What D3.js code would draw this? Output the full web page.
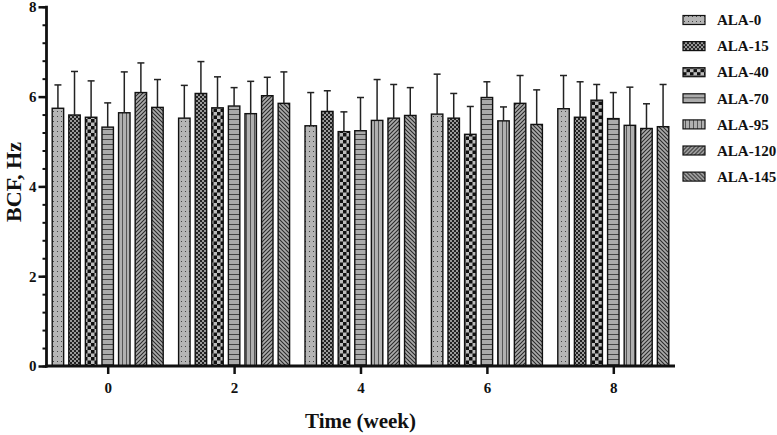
<!DOCTYPE html>
<html><head><meta charset="utf-8">
<script src="https://cdn.jsdelivr.net/npm/d3@7"></script>
<style>body{margin:0;background:#fff}svg{display:block}</style>
</head><body>
<svg id="chart" width="777" height="435"></svg>
<script>
const weeks = [0, 2, 4, 6, 8];
const seriesNames = ["ALA-0", "ALA-15", "ALA-40", "ALA-70", "ALA-95", "ALA-120", "ALA-145"];
const ala0   = [5.74, 5.52, 5.35, 5.61, 5.73];
const ala15  = [5.59, 6.07, 5.67, 5.52, 5.54];
const ala40  = [5.54, 5.75, 5.22, 5.16, 5.92];
const ala70  = [5.32, 5.79, 5.24, 5.98, 5.51];
const ala95  = [5.64, 5.62, 5.47, 5.46, 5.36];
const ala120 = [6.09, 6.02, 5.52, 5.85, 5.29];
const ala145 = [5.76, 5.85, 5.58, 5.38, 5.33];
const sd0   = [0.52, 0.73, 0.74, 0.89, 0.74];
const sd15  = [0.97, 0.71, 0.46, 0.55, 0.79];
const sd40  = [0.81, 0.69, 0.44, 0.62, 0.35];
const sd70  = [0.54, 0.41, 0.74, 0.35, 0.58];
const sd95  = [0.91, 0.72, 0.91, 0.31, 0.85];
const sd120 = [0.66, 0.41, 0.75, 0.62, 0.55];
const sd145 = [0.62, 0.70, 0.62, 0.77, 0.94];
const yTicks = [0, 2, 4, 6, 8];
const yTitle = "BCF, Hz";
const xTitle = "Time (week)";

const means = [ala0, ala15, ala40, ala70, ala95, ala120, ala145];
const sds = [sd0, sd15, sd40, sd70, sd95, sd120, sd145];
const data = [];
seriesNames.forEach((s, si) => weeks.forEach((w, wi) => data.push({series: s, si, week: w, mean: means[si][wi], sd: sds[si][wi]})));

const svg = d3.select("#chart");
const FONT = "'Liberation Serif','Times New Roman',serif";

// patterns
const defs = svg.append("defs");
const base = "#ababab", ink = "#2a2a2a";
function pat(id, w, h, build) {
  const p = defs.append("pattern").attr("id", id).attr("patternUnits", "userSpaceOnUse").attr("width", w).attr("height", h);
  build(p);
}
pat("p0", 4, 5, p => {
  p.append("rect").attr("width", 4).attr("height", 5).attr("fill", "#b5b5b5");
  p.append("rect").attr("x", 1).attr("y", 1).attr("width", 1).attr("height", 1).attr("fill", "#444");
});
pat("p1", 4, 4, p => {
  p.append("rect").attr("width", 4).attr("height", 4).attr("fill", "#9a9a9a");
  p.append("rect").attr("width", 2).attr("height", 2).attr("fill", "#222");
  p.append("rect").attr("x", 2).attr("y", 2).attr("width", 2).attr("height", 2).attr("fill", "#222");
});
pat("p2", 7, 7, p => {
  p.append("rect").attr("width", 7).attr("height", 7).attr("fill", "#bdbdbd");
  p.append("rect").attr("width", 3.5).attr("height", 3.5).attr("fill", "#111");
  p.append("rect").attr("x", 3.5).attr("y", 3.5).attr("width", 3.5).attr("height", 3.5).attr("fill", "#111");
});
pat("p3", 6, 5, p => {
  p.append("rect").attr("width", 6).attr("height", 5).attr("fill", base);
  p.append("rect").attr("y", 4).attr("width", 6).attr("height", 1).attr("fill", "#444");
});
pat("p4", 4, 6, p => {
  p.append("rect").attr("width", 4).attr("height", 6).attr("fill", "#b0b0b0");
  p.append("rect").attr("x", 2).attr("width", 1).attr("height", 6).attr("fill", "#555");
});
pat("p5", 4, 4, p => {
  p.append("rect").attr("width", 4).attr("height", 4).attr("fill", base);
  p.append("path").attr("d", "M-1,5 L5,-1 M-1,1 L1,-1 M3,5 L5,3").attr("stroke", ink).attr("stroke-width", 1.1);
});
pat("p6", 4, 4, p => {
  p.append("rect").attr("width", 4).attr("height", 4).attr("fill", base);
  p.append("path").attr("d", "M-1,-1 L5,5 M3,-1 L5,1 M-1,3 L1,5").attr("stroke", ink).attr("stroke-width", 1.1);
});

const x = d3.scaleLinear().domain([0, 8]).range([107.7, 613.3]);
const xs = d3.scaleBand().domain(seriesNames).range([-55.5, 55.5]).paddingInner(0.31);
const y = d3.scaleLinear().domain([0, 8]).range([366, 6.8]);

// bars
const bars = svg.append("g");
bars.selectAll("rect").data(data).join("rect")
  .attr("x", d => x(d.week) + xs(d.series))
  .attr("y", d => y(d.mean))
  .attr("width", xs.bandwidth())
  .attr("height", d => y(0) - y(d.mean))
  .attr("fill", d => `url(#p${d.si})`)
  .attr("stroke", "#111").attr("stroke-width", 1.4);

// error bars
const eb = svg.append("g").attr("stroke", "#222").attr("stroke-width", 1.5);
eb.selectAll("line.v").data(data).join("line").attr("class", "v")
  .attr("x1", d => x(d.week) + xs(d.series) + xs.bandwidth() / 2)
  .attr("x2", d => x(d.week) + xs(d.series) + xs.bandwidth() / 2)
  .attr("y1", d => y(d.mean)).attr("y2", d => y(d.mean + d.sd));
eb.selectAll("line.c").data(data).join("line").attr("class", "c")
  .attr("x1", d => x(d.week) + xs(d.series) + xs.bandwidth() / 2 - 3.5)
  .attr("x2", d => x(d.week) + xs(d.series) + xs.bandwidth() / 2 + 3.5)
  .attr("y1", d => y(d.mean + d.sd)).attr("y2", d => y(d.mean + d.sd));

// y axis
const yAxisG = svg.append("g").attr("transform", "translate(46.5,0)");
yAxisG.call(d3.axisLeft(y).tickValues(d3.range(0, 8.01, 0.4)).tickFormat("").tickSize(4).tickSizeOuter(0))
  .call(g => g.select(".domain").remove())
  .call(g => g.selectAll("line").attr("stroke", "#111").attr("stroke-width", 2));
yAxisG.append("g").call(d3.axisLeft(y).tickValues(yTicks).tickSize(8).tickSizeOuter(0).tickPadding(2))
  .call(g => g.select(".domain").remove())
  .call(g => g.selectAll("line").attr("stroke", "#111").attr("stroke-width", 2.5))
  .call(g => g.selectAll("text").attr("font-family", FONT).attr("font-weight", "bold").attr("font-size", 15).attr("fill", "#111"));
yAxisG.append("line").attr("x1", 0).attr("x2", 0).attr("y1", y(8) - 1).attr("y2", y(0) + 1.5)
  .attr("stroke", "#111").attr("stroke-width", 2.8);

// x axis
const xAxisG = svg.append("g").attr("transform", `translate(0,${y(0)})`);
xAxisG.call(d3.axisBottom(x).tickValues(weeks).tickSize(8).tickSizeOuter(0).tickPadding(8))
  .call(g => g.select(".domain").remove())
  .call(g => g.selectAll("line").attr("stroke", "#111").attr("stroke-width", 2.5))
  .call(g => g.selectAll("text").attr("font-family", FONT).attr("font-weight", "bold").attr("font-size", 15).attr("fill", "#111"));
xAxisG.append("line").attr("x1", 45).attr("x2", 675).attr("y1", 0).attr("y2", 0)
  .attr("stroke", "#111").attr("stroke-width", 2.8);

// titles
svg.append("text").attr("x", x(4)).attr("y", 428).attr("text-anchor", "middle")
  .attr("font-family", FONT).attr("font-weight", "bold").attr("font-size", 21).attr("fill", "#111").text(xTitle);
svg.append("text").attr("transform", "translate(20.5,182) rotate(-90)").attr("text-anchor", "middle")
  .attr("font-family", FONT).attr("font-weight", "bold").attr("font-size", 22).attr("fill", "#111").text(yTitle);

// legend
const lg = svg.append("g").selectAll("g").data(seriesNames).join("g")
  .attr("transform", (d, i) => `translate(683,${20 + i * 26.1})`);
lg.append("rect").attr("x", 0).attr("y", -4.5).attr("width", 22).attr("height", 9)
  .attr("fill", (d, i) => `url(#p${i})`).attr("stroke", "#111").attr("stroke-width", 1.2);
lg.append("text").attr("x", 34).attr("y", 0).attr("dy", "0.35em")
  .attr("font-family", FONT).attr("font-weight", "bold").attr("font-size", 15).attr("fill", "#111").text(d => d);
</script>
</body></html>
